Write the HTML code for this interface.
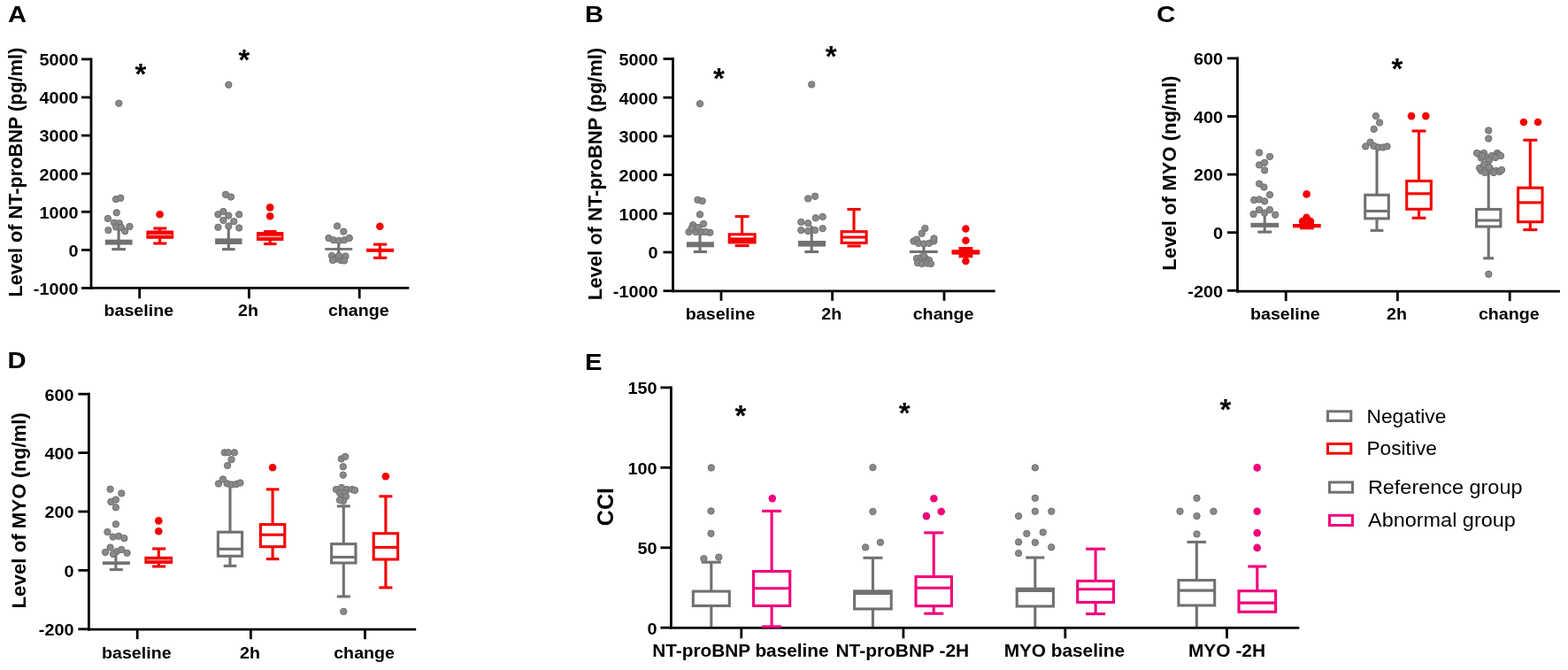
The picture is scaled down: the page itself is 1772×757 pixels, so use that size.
<!DOCTYPE html>
<html><head><meta charset="utf-8"><title>Figure</title>
<style>html,body{margin:0;padding:0;background:#fff;} svg{display:block;}</style>
</head><body>
<svg width="1772" height="757" viewBox="0 0 1772 757" font-family="'Liberation Sans', Arial, Helvetica, sans-serif">
<rect width="1772" height="757" fill="#fff"/>
<text transform="translate(9,25) scale(1.1,1)" font-size="26.5" font-weight="bold" text-anchor="start">A</text>
<line x1="103.0" y1="65.5" x2="103.0" y2="326.7" stroke="#000" stroke-width="2.8"/>
<line x1="101.6" y1="325.3" x2="462.3" y2="325.3" stroke="#000" stroke-width="2.8"/>
<line x1="92.0" y1="325.5" x2="103.0" y2="325.5" stroke="#000" stroke-width="2.8"/>
<line x1="92.0" y1="282.4" x2="103.0" y2="282.4" stroke="#000" stroke-width="2.8"/>
<line x1="92.0" y1="239.3" x2="103.0" y2="239.3" stroke="#000" stroke-width="2.8"/>
<line x1="92.0" y1="196.2" x2="103.0" y2="196.2" stroke="#000" stroke-width="2.8"/>
<line x1="92.0" y1="153.1" x2="103.0" y2="153.1" stroke="#000" stroke-width="2.8"/>
<line x1="92.0" y1="110.0" x2="103.0" y2="110.0" stroke="#000" stroke-width="2.8"/>
<line x1="92.0" y1="66.9" x2="103.0" y2="66.9" stroke="#000" stroke-width="2.8"/>
<line x1="157.7" y1="325.3" x2="157.7" y2="337.3" stroke="#000" stroke-width="2.8"/>
<line x1="281.4" y1="325.3" x2="281.4" y2="337.3" stroke="#000" stroke-width="2.8"/>
<line x1="406.2" y1="325.3" x2="406.2" y2="337.3" stroke="#000" stroke-width="2.8"/>
<text transform="translate(88.5,332.8) scale(1.09,1)" font-size="18.2" font-weight="bold" text-anchor="end">-1000</text>
<text transform="translate(88.5,289.7) scale(1.09,1)" font-size="18.2" font-weight="bold" text-anchor="end">0</text>
<text transform="translate(88.5,246.6) scale(1.09,1)" font-size="18.2" font-weight="bold" text-anchor="end">1000</text>
<text transform="translate(88.5,203.5) scale(1.09,1)" font-size="18.2" font-weight="bold" text-anchor="end">2000</text>
<text transform="translate(88.5,160.39999999999998) scale(1.09,1)" font-size="18.2" font-weight="bold" text-anchor="end">3000</text>
<text transform="translate(88.5,117.29999999999997) scale(1.09,1)" font-size="18.2" font-weight="bold" text-anchor="end">4000</text>
<text transform="translate(88.5,74.19999999999997) scale(1.09,1)" font-size="18.2" font-weight="bold" text-anchor="end">5000</text>
<text transform="translate(156.79999999999998,357.3) scale(1.075,1)" font-size="18.3" font-weight="bold" text-anchor="middle">baseline</text>
<text transform="translate(280.5,357.3) scale(1.075,1)" font-size="18.3" font-weight="bold" text-anchor="middle">2h</text>
<text transform="translate(405.3,357.3) scale(1.075,1)" font-size="18.3" font-weight="bold" text-anchor="middle">change</text>
<text transform="translate(25.4,194.6) rotate(-90) scale(1.01,1)" font-size="21.5" font-weight="bold" text-anchor="middle">Level of NT-proBNP (pg/ml)</text>
<text x="158.8" y="95.0" font-size="33" font-weight="bold" text-anchor="middle">*</text>
<text x="275.8" y="78.5" font-size="33" font-weight="bold" text-anchor="middle">*</text>
<line x1="134.1" y1="258.0" x2="134.1" y2="281.6" stroke="#717171" stroke-width="3.1"/>
<line x1="126.4" y1="281.6" x2="142.0" y2="281.6" stroke="#717171" stroke-width="3.1"/>
<rect x="118.8" y="270.7" width="30.8" height="5.9" fill="#717171"/>
<circle cx="134.3" cy="116.7" r="3.7" fill="#898989" stroke="#707070" stroke-width="1.0"/>
<circle cx="131.0" cy="225.1" r="3.7" fill="#898989" stroke="#707070" stroke-width="1.0"/>
<circle cx="136.3" cy="223.8" r="3.7" fill="#898989" stroke="#707070" stroke-width="1.0"/>
<circle cx="131.7" cy="240.3" r="3.7" fill="#898989" stroke="#707070" stroke-width="1.0"/>
<circle cx="121.9" cy="246.9" r="3.7" fill="#898989" stroke="#707070" stroke-width="1.0"/>
<circle cx="129.0" cy="251.7" r="3.7" fill="#898989" stroke="#707070" stroke-width="1.0"/>
<circle cx="134.8" cy="252.2" r="3.7" fill="#898989" stroke="#707070" stroke-width="1.0"/>
<circle cx="131.1" cy="256.4" r="3.7" fill="#898989" stroke="#707070" stroke-width="1.0"/>
<circle cx="137.0" cy="257.0" r="3.7" fill="#898989" stroke="#707070" stroke-width="1.0"/>
<circle cx="122.4" cy="260.1" r="3.7" fill="#898989" stroke="#707070" stroke-width="1.0"/>
<circle cx="141.2" cy="261.2" r="3.7" fill="#898989" stroke="#707070" stroke-width="1.0"/>
<circle cx="146.5" cy="255.9" r="3.7" fill="#898989" stroke="#707070" stroke-width="1.0"/>
<line x1="180.6" y1="258.0" x2="180.6" y2="275.0" stroke="#f50000" stroke-width="3.1"/>
<line x1="173.3" y1="258.0" x2="188.3" y2="258.0" stroke="#f50000" stroke-width="3.1"/>
<line x1="173.3" y1="275.0" x2="188.3" y2="275.0" stroke="#f50000" stroke-width="3.1"/>
<rect x="165.4" y="260.5" width="30.8" height="9.3" fill="#f50000"/>
<line x1="167.5" y1="265.4" x2="194.0" y2="265.4" stroke="#ff9a9a" stroke-width="1.2"/>
<circle cx="180.6" cy="242.3" r="4.3" fill="#f50000"/>
<line x1="258.3" y1="255.0" x2="258.3" y2="281.6" stroke="#717171" stroke-width="3.1"/>
<line x1="251.0" y1="281.6" x2="265.6" y2="281.6" stroke="#717171" stroke-width="3.1"/>
<rect x="243.1" y="269.4" width="30.4" height="6.6" fill="#717171"/>
<circle cx="258.3" cy="95.8" r="3.7" fill="#898989" stroke="#707070" stroke-width="1.0"/>
<circle cx="255.0" cy="219.8" r="3.7" fill="#898989" stroke="#707070" stroke-width="1.0"/>
<circle cx="261.0" cy="222.5" r="3.7" fill="#898989" stroke="#707070" stroke-width="1.0"/>
<circle cx="246.4" cy="242.3" r="3.7" fill="#898989" stroke="#707070" stroke-width="1.0"/>
<circle cx="252.4" cy="239.0" r="3.7" fill="#898989" stroke="#707070" stroke-width="1.0"/>
<circle cx="258.3" cy="243.6" r="3.7" fill="#898989" stroke="#707070" stroke-width="1.0"/>
<circle cx="270.2" cy="242.3" r="3.7" fill="#898989" stroke="#707070" stroke-width="1.0"/>
<circle cx="252.4" cy="248.9" r="3.7" fill="#898989" stroke="#707070" stroke-width="1.0"/>
<circle cx="264.3" cy="250.2" r="3.7" fill="#898989" stroke="#707070" stroke-width="1.0"/>
<circle cx="246.4" cy="256.8" r="3.7" fill="#898989" stroke="#707070" stroke-width="1.0"/>
<circle cx="270.2" cy="257.5" r="3.7" fill="#898989" stroke="#707070" stroke-width="1.0"/>
<circle cx="258.3" cy="255.5" r="3.7" fill="#898989" stroke="#707070" stroke-width="1.0"/>
<line x1="305.2" y1="261.0" x2="305.2" y2="275.6" stroke="#f50000" stroke-width="3.1"/>
<line x1="298.0" y1="275.6" x2="312.5" y2="275.6" stroke="#f50000" stroke-width="3.1"/>
<line x1="298.0" y1="261.6" x2="312.5" y2="261.6" stroke="#f50000" stroke-width="3.1"/>
<rect x="290.0" y="262.1" width="30.4" height="9.9" fill="#f50000"/>
<line x1="292.5" y1="267.4" x2="318.0" y2="267.4" stroke="#ffb0b0" stroke-width="1.6"/>
<circle cx="305.2" cy="234.4" r="4.3" fill="#f50000"/>
<circle cx="305.2" cy="244.3" r="4.3" fill="#f50000"/>
<line x1="382.7" y1="272.0" x2="382.7" y2="292.0" stroke="#717171" stroke-width="3.1"/>
<rect x="367.2" y="280.1" width="31.0" height="2.7" fill="#717171"/>
<circle cx="381.1" cy="255.4" r="3.7" fill="#898989" stroke="#707070" stroke-width="1.0"/>
<circle cx="388.3" cy="261.6" r="3.7" fill="#898989" stroke="#707070" stroke-width="1.0"/>
<circle cx="371.5" cy="269.0" r="3.7" fill="#898989" stroke="#707070" stroke-width="1.0"/>
<circle cx="377.0" cy="271.3" r="3.7" fill="#898989" stroke="#707070" stroke-width="1.0"/>
<circle cx="383.0" cy="272.0" r="3.7" fill="#898989" stroke="#707070" stroke-width="1.0"/>
<circle cx="389.0" cy="271.3" r="3.7" fill="#898989" stroke="#707070" stroke-width="1.0"/>
<circle cx="394.8" cy="269.0" r="3.7" fill="#898989" stroke="#707070" stroke-width="1.0"/>
<circle cx="375.0" cy="289.0" r="3.7" fill="#898989" stroke="#707070" stroke-width="1.0"/>
<circle cx="380.0" cy="292.5" r="3.7" fill="#898989" stroke="#707070" stroke-width="1.0"/>
<circle cx="385.0" cy="294.0" r="3.7" fill="#898989" stroke="#707070" stroke-width="1.0"/>
<circle cx="390.5" cy="289.5" r="3.7" fill="#898989" stroke="#707070" stroke-width="1.0"/>
<circle cx="376.0" cy="294.0" r="3.7" fill="#898989" stroke="#707070" stroke-width="1.0"/>
<circle cx="389.0" cy="294.5" r="3.7" fill="#898989" stroke="#707070" stroke-width="1.0"/>
<circle cx="383.0" cy="289.0" r="3.7" fill="#898989" stroke="#707070" stroke-width="1.0"/>
<line x1="429.3" y1="276.1" x2="429.3" y2="291.3" stroke="#f50000" stroke-width="3.1"/>
<line x1="422.0" y1="276.1" x2="437.2" y2="276.1" stroke="#f50000" stroke-width="3.1"/>
<line x1="422.0" y1="291.3" x2="437.2" y2="291.3" stroke="#f50000" stroke-width="3.1"/>
<rect x="414.0" y="280.8" width="31.1" height="4.0" fill="#f50000"/>
<circle cx="429.3" cy="255.7" r="4.3" fill="#f50000"/>
<text transform="translate(661,25) scale(1.1,1)" font-size="26.5" font-weight="bold" text-anchor="start">B</text>
<line x1="760.5" y1="65.1" x2="760.5" y2="330.2" stroke="#000" stroke-width="2.8"/>
<line x1="759.1" y1="328.8" x2="1124.6" y2="328.8" stroke="#000" stroke-width="2.8"/>
<line x1="749.5" y1="328.7" x2="760.5" y2="328.7" stroke="#000" stroke-width="2.8"/>
<line x1="749.5" y1="285.0" x2="760.5" y2="285.0" stroke="#000" stroke-width="2.8"/>
<line x1="749.5" y1="241.3" x2="760.5" y2="241.3" stroke="#000" stroke-width="2.8"/>
<line x1="749.5" y1="197.6" x2="760.5" y2="197.6" stroke="#000" stroke-width="2.8"/>
<line x1="749.5" y1="153.9" x2="760.5" y2="153.9" stroke="#000" stroke-width="2.8"/>
<line x1="749.5" y1="110.2" x2="760.5" y2="110.2" stroke="#000" stroke-width="2.8"/>
<line x1="749.5" y1="66.5" x2="760.5" y2="66.5" stroke="#000" stroke-width="2.8"/>
<line x1="815.0" y1="328.8" x2="815.0" y2="339.8" stroke="#000" stroke-width="2.8"/>
<line x1="940.6" y1="328.8" x2="940.6" y2="339.8" stroke="#000" stroke-width="2.8"/>
<line x1="1067.0" y1="328.8" x2="1067.0" y2="339.8" stroke="#000" stroke-width="2.8"/>
<text transform="translate(743.5,336.0) scale(1.09,1)" font-size="18.2" font-weight="bold" text-anchor="end">-1000</text>
<text transform="translate(743.5,292.3) scale(1.09,1)" font-size="18.2" font-weight="bold" text-anchor="end">0</text>
<text transform="translate(743.5,248.60000000000002) scale(1.09,1)" font-size="18.2" font-weight="bold" text-anchor="end">1000</text>
<text transform="translate(743.5,204.9) scale(1.09,1)" font-size="18.2" font-weight="bold" text-anchor="end">2000</text>
<text transform="translate(743.5,161.2) scale(1.09,1)" font-size="18.2" font-weight="bold" text-anchor="end">3000</text>
<text transform="translate(743.5,117.49999999999999) scale(1.09,1)" font-size="18.2" font-weight="bold" text-anchor="end">4000</text>
<text transform="translate(743.5,73.8) scale(1.09,1)" font-size="18.2" font-weight="bold" text-anchor="end">5000</text>
<text transform="translate(814.1,360.8) scale(1.075,1)" font-size="18.3" font-weight="bold" text-anchor="middle">baseline</text>
<text transform="translate(939.7,360.8) scale(1.075,1)" font-size="18.3" font-weight="bold" text-anchor="middle">2h</text>
<text transform="translate(1066.1,360.8) scale(1.075,1)" font-size="18.3" font-weight="bold" text-anchor="middle">change</text>
<text transform="translate(680.4,196.5) rotate(-90) scale(1.023,1)" font-size="21.5" font-weight="bold" text-anchor="middle">Level of NT-proBNP (pg/ml)</text>
<text x="812.5" y="100.4" font-size="33" font-weight="bold" text-anchor="middle">*</text>
<text x="939.2" y="74.5" font-size="33" font-weight="bold" text-anchor="middle">*</text>
<line x1="791.0" y1="258.0" x2="791.0" y2="284.5" stroke="#717171" stroke-width="3.1"/>
<line x1="783.8" y1="284.5" x2="799.0" y2="284.5" stroke="#717171" stroke-width="3.1"/>
<rect x="775.9" y="273.3" width="31.0" height="6.0" fill="#717171"/>
<circle cx="791.0" cy="117.2" r="3.7" fill="#898989" stroke="#707070" stroke-width="1.0"/>
<circle cx="788.4" cy="225.8" r="3.7" fill="#898989" stroke="#707070" stroke-width="1.0"/>
<circle cx="793.7" cy="227.1" r="3.7" fill="#898989" stroke="#707070" stroke-width="1.0"/>
<circle cx="791.0" cy="242.3" r="3.7" fill="#898989" stroke="#707070" stroke-width="1.0"/>
<circle cx="783.1" cy="254.2" r="3.7" fill="#898989" stroke="#707070" stroke-width="1.0"/>
<circle cx="795.0" cy="252.9" r="3.7" fill="#898989" stroke="#707070" stroke-width="1.0"/>
<circle cx="778.5" cy="262.1" r="3.7" fill="#898989" stroke="#707070" stroke-width="1.0"/>
<circle cx="786.4" cy="262.1" r="3.7" fill="#898989" stroke="#707070" stroke-width="1.0"/>
<circle cx="793.0" cy="262.1" r="3.7" fill="#898989" stroke="#707070" stroke-width="1.0"/>
<circle cx="802.3" cy="262.8" r="3.7" fill="#898989" stroke="#707070" stroke-width="1.0"/>
<circle cx="789.0" cy="257.0" r="3.7" fill="#898989" stroke="#707070" stroke-width="1.0"/>
<circle cx="797.5" cy="262.0" r="3.7" fill="#898989" stroke="#707070" stroke-width="1.0"/>
<circle cx="781.5" cy="258.0" r="3.7" fill="#898989" stroke="#707070" stroke-width="1.0"/>
<line x1="838.6" y1="244.6" x2="838.6" y2="264.0" stroke="#f50000" stroke-width="3.1"/>
<line x1="830.7" y1="244.6" x2="846.6" y2="244.6" stroke="#f50000" stroke-width="3.1"/>
<line x1="830.7" y1="277.6" x2="846.6" y2="277.6" stroke="#f50000" stroke-width="3.1"/>
<rect x="824.2" y="264.8" width="28.9" height="9.1" fill="#fff" stroke="#f50000" stroke-width="3.1"/>
<rect x="824.2" y="268.4" width="28.9" height="5.5" fill="#f50000"/>
<line x1="917.2" y1="255.0" x2="917.2" y2="284.5" stroke="#717171" stroke-width="3.1"/>
<line x1="909.3" y1="284.5" x2="925.1" y2="284.5" stroke="#717171" stroke-width="3.1"/>
<rect x="902.0" y="272.0" width="31.0" height="6.6" fill="#717171"/>
<circle cx="917.2" cy="95.5" r="3.7" fill="#898989" stroke="#707070" stroke-width="1.0"/>
<circle cx="913.2" cy="224.4" r="3.7" fill="#898989" stroke="#707070" stroke-width="1.0"/>
<circle cx="921.1" cy="221.8" r="3.7" fill="#898989" stroke="#707070" stroke-width="1.0"/>
<circle cx="921.8" cy="246.3" r="3.7" fill="#898989" stroke="#707070" stroke-width="1.0"/>
<circle cx="929.7" cy="244.9" r="3.7" fill="#898989" stroke="#707070" stroke-width="1.0"/>
<circle cx="905.3" cy="250.9" r="3.7" fill="#898989" stroke="#707070" stroke-width="1.0"/>
<circle cx="913.2" cy="252.2" r="3.7" fill="#898989" stroke="#707070" stroke-width="1.0"/>
<circle cx="905.3" cy="260.1" r="3.7" fill="#898989" stroke="#707070" stroke-width="1.0"/>
<circle cx="921.1" cy="260.1" r="3.7" fill="#898989" stroke="#707070" stroke-width="1.0"/>
<circle cx="929.7" cy="258.1" r="3.7" fill="#898989" stroke="#707070" stroke-width="1.0"/>
<circle cx="913.0" cy="261.0" r="3.7" fill="#898989" stroke="#707070" stroke-width="1.0"/>
<line x1="965.0" y1="236.5" x2="965.0" y2="262.0" stroke="#f50000" stroke-width="3.1"/>
<line x1="957.5" y1="236.5" x2="972.7" y2="236.5" stroke="#f50000" stroke-width="3.1"/>
<line x1="957.5" y1="278.0" x2="972.7" y2="278.0" stroke="#f50000" stroke-width="3.1"/>
<rect x="951.1" y="261.7" width="28.0" height="12.7" fill="#fff" stroke="#f50000" stroke-width="3.1"/>
<line x1="951.1" y1="268.0" x2="979.1" y2="268.0" stroke="#f50000" stroke-width="3.1"/>
<line x1="1044.0" y1="276.0" x2="1044.0" y2="293.0" stroke="#717171" stroke-width="3.1"/>
<rect x="1028.0" y="282.9" width="31.7" height="3.1" fill="#717171"/>
<circle cx="1045.4" cy="258.0" r="3.7" fill="#898989" stroke="#707070" stroke-width="1.0"/>
<circle cx="1041.7" cy="263.8" r="3.7" fill="#898989" stroke="#707070" stroke-width="1.0"/>
<circle cx="1032.5" cy="272.5" r="3.7" fill="#898989" stroke="#707070" stroke-width="1.0"/>
<circle cx="1036.0" cy="270.5" r="3.7" fill="#898989" stroke="#707070" stroke-width="1.0"/>
<circle cx="1038.0" cy="274.8" r="3.7" fill="#898989" stroke="#707070" stroke-width="1.0"/>
<circle cx="1044.0" cy="275.5" r="3.7" fill="#898989" stroke="#707070" stroke-width="1.0"/>
<circle cx="1050.0" cy="274.8" r="3.7" fill="#898989" stroke="#707070" stroke-width="1.0"/>
<circle cx="1055.3" cy="272.5" r="3.7" fill="#898989" stroke="#707070" stroke-width="1.0"/>
<circle cx="1055.5" cy="269.5" r="3.7" fill="#898989" stroke="#707070" stroke-width="1.0"/>
<circle cx="1036.0" cy="292.0" r="3.7" fill="#898989" stroke="#707070" stroke-width="1.0"/>
<circle cx="1041.0" cy="291.0" r="3.7" fill="#898989" stroke="#707070" stroke-width="1.0"/>
<circle cx="1046.0" cy="292.0" r="3.7" fill="#898989" stroke="#707070" stroke-width="1.0"/>
<circle cx="1050.0" cy="294.0" r="3.7" fill="#898989" stroke="#707070" stroke-width="1.0"/>
<circle cx="1037.0" cy="297.0" r="3.7" fill="#898989" stroke="#707070" stroke-width="1.0"/>
<circle cx="1042.0" cy="298.0" r="3.7" fill="#898989" stroke="#707070" stroke-width="1.0"/>
<circle cx="1048.0" cy="297.5" r="3.7" fill="#898989" stroke="#707070" stroke-width="1.0"/>
<circle cx="1052.0" cy="298.0" r="3.7" fill="#898989" stroke="#707070" stroke-width="1.0"/>
<circle cx="1044.0" cy="289.0" r="3.7" fill="#898989" stroke="#707070" stroke-width="1.0"/>
<rect x="1083.5" y="279.0" width="15.8" height="12.3" fill="#f50000"/>
<rect x="1075.5" y="282.3" width="31.8" height="5.3" fill="#f50000"/>
<circle cx="1091.4" cy="258.5" r="4.3" fill="#f50000"/>
<circle cx="1091.4" cy="271.8" r="4.3" fill="#f50000"/>
<circle cx="1091.4" cy="295.0" r="4.3" fill="#f50000"/>
<text transform="translate(1307,25) scale(1.12,1)" font-size="26.5" font-weight="bold" text-anchor="start">C</text>
<line x1="1398.5" y1="64.5" x2="1398.5" y2="330.6" stroke="#000" stroke-width="2.8"/>
<line x1="1397.1" y1="329.2" x2="1762.9" y2="329.2" stroke="#000" stroke-width="2.8"/>
<line x1="1387.0" y1="328.3" x2="1398.5" y2="328.3" stroke="#000" stroke-width="2.8"/>
<line x1="1387.0" y1="262.7" x2="1398.5" y2="262.7" stroke="#000" stroke-width="2.8"/>
<line x1="1387.0" y1="197.1" x2="1398.5" y2="197.1" stroke="#000" stroke-width="2.8"/>
<line x1="1387.0" y1="131.5" x2="1398.5" y2="131.5" stroke="#000" stroke-width="2.8"/>
<line x1="1387.0" y1="65.9" x2="1398.5" y2="65.9" stroke="#000" stroke-width="2.8"/>
<line x1="1453.2" y1="329.2" x2="1453.2" y2="340.2" stroke="#000" stroke-width="2.8"/>
<line x1="1579.4" y1="329.2" x2="1579.4" y2="340.2" stroke="#000" stroke-width="2.8"/>
<line x1="1706.2" y1="329.2" x2="1706.2" y2="340.2" stroke="#000" stroke-width="2.8"/>
<text transform="translate(1382,335.59999999999997) scale(1.09,1)" font-size="18.2" font-weight="bold" text-anchor="end">-200</text>
<text transform="translate(1382,270.0) scale(1.09,1)" font-size="18.2" font-weight="bold" text-anchor="end">0</text>
<text transform="translate(1382,204.4) scale(1.09,1)" font-size="18.2" font-weight="bold" text-anchor="end">200</text>
<text transform="translate(1382,138.8) scale(1.09,1)" font-size="18.2" font-weight="bold" text-anchor="end">400</text>
<text transform="translate(1382,73.2) scale(1.09,1)" font-size="18.2" font-weight="bold" text-anchor="end">600</text>
<text transform="translate(1452.3,361) scale(1.075,1)" font-size="18.3" font-weight="bold" text-anchor="middle">baseline</text>
<text transform="translate(1578.5,361) scale(1.075,1)" font-size="18.3" font-weight="bold" text-anchor="middle">2h</text>
<text transform="translate(1705.3,361) scale(1.075,1)" font-size="18.3" font-weight="bold" text-anchor="middle">change</text>
<text transform="translate(1329.1,195.6) rotate(-90) scale(1.03,1)" font-size="21.5" font-weight="bold" text-anchor="middle">Level of MYO (ng/ml)</text>
<text x="1578.8" y="89.2" font-size="33" font-weight="bold" text-anchor="middle">*</text>
<line x1="1429.2" y1="242.0" x2="1429.2" y2="262.1" stroke="#717171" stroke-width="3.1"/>
<line x1="1421.4" y1="262.1" x2="1437.2" y2="262.1" stroke="#717171" stroke-width="3.1"/>
<rect x="1413.5" y="251.8" width="31.7" height="5.1" fill="#717171"/>
<circle cx="1423.1" cy="172.5" r="3.7" fill="#898989" stroke="#707070" stroke-width="1.0"/>
<circle cx="1435.0" cy="176.9" r="3.7" fill="#898989" stroke="#707070" stroke-width="1.0"/>
<circle cx="1423.1" cy="186.4" r="3.7" fill="#898989" stroke="#707070" stroke-width="1.0"/>
<circle cx="1429.1" cy="183.8" r="3.7" fill="#898989" stroke="#707070" stroke-width="1.0"/>
<circle cx="1429.1" cy="192.4" r="3.7" fill="#898989" stroke="#707070" stroke-width="1.0"/>
<circle cx="1423.1" cy="207.6" r="3.7" fill="#898989" stroke="#707070" stroke-width="1.0"/>
<circle cx="1428.4" cy="211.5" r="3.7" fill="#898989" stroke="#707070" stroke-width="1.0"/>
<circle cx="1435.0" cy="220.1" r="3.7" fill="#898989" stroke="#707070" stroke-width="1.0"/>
<circle cx="1417.2" cy="226.0" r="3.7" fill="#898989" stroke="#707070" stroke-width="1.0"/>
<circle cx="1423.1" cy="225.4" r="3.7" fill="#898989" stroke="#707070" stroke-width="1.0"/>
<circle cx="1429.1" cy="227.4" r="3.7" fill="#898989" stroke="#707070" stroke-width="1.0"/>
<circle cx="1416.6" cy="241.9" r="3.7" fill="#898989" stroke="#707070" stroke-width="1.0"/>
<circle cx="1423.0" cy="237.0" r="3.7" fill="#898989" stroke="#707070" stroke-width="1.0"/>
<circle cx="1429.1" cy="240.6" r="3.7" fill="#898989" stroke="#707070" stroke-width="1.0"/>
<circle cx="1434.9" cy="237.0" r="3.7" fill="#898989" stroke="#707070" stroke-width="1.0"/>
<circle cx="1441.2" cy="242.7" r="3.7" fill="#898989" stroke="#707070" stroke-width="1.0"/>
<rect x="1469.0" y="250.5" width="15.8" height="8.8" fill="#f50000"/>
<rect x="1461.0" y="253.0" width="31.7" height="4.3" fill="#f50000"/>
<circle cx="1476.6" cy="219.4" r="4.3" fill="#f50000"/>
<circle cx="1476.5" cy="245.8" r="4.3" fill="#f50000"/>
<circle cx="1472.0" cy="250.0" r="4.3" fill="#f50000"/>
<circle cx="1481.0" cy="250.0" r="4.3" fill="#f50000"/>
<line x1="1556.0" y1="166.0" x2="1556.0" y2="220.3" stroke="#717171" stroke-width="3.1"/>
<line x1="1548.6" y1="166.0" x2="1563.4" y2="166.0" stroke="#717171" stroke-width="3.1"/>
<line x1="1556.0" y1="246.9" x2="1556.0" y2="260.4" stroke="#717171" stroke-width="3.1"/>
<line x1="1548.6" y1="260.4" x2="1563.4" y2="260.4" stroke="#717171" stroke-width="3.1"/>
<rect x="1542.7" y="220.3" width="26.6" height="26.6" fill="#fff" stroke="#717171" stroke-width="3.1"/>
<line x1="1542.7" y1="238.5" x2="1569.3" y2="238.5" stroke="#717171" stroke-width="3.1"/>
<circle cx="1554.9" cy="131.1" r="3.7" fill="#898989" stroke="#707070" stroke-width="1.0"/>
<circle cx="1559.1" cy="138.5" r="3.7" fill="#898989" stroke="#707070" stroke-width="1.0"/>
<circle cx="1552.7" cy="145.9" r="3.7" fill="#898989" stroke="#707070" stroke-width="1.0"/>
<circle cx="1543.2" cy="165.4" r="3.7" fill="#898989" stroke="#707070" stroke-width="1.0"/>
<circle cx="1548.5" cy="160.7" r="3.7" fill="#898989" stroke="#707070" stroke-width="1.0"/>
<circle cx="1553.0" cy="165.0" r="3.7" fill="#898989" stroke="#707070" stroke-width="1.0"/>
<circle cx="1558.0" cy="166.5" r="3.7" fill="#898989" stroke="#707070" stroke-width="1.0"/>
<circle cx="1563.0" cy="166.5" r="3.7" fill="#898989" stroke="#707070" stroke-width="1.0"/>
<circle cx="1567.5" cy="165.4" r="3.7" fill="#898989" stroke="#707070" stroke-width="1.0"/>
<line x1="1603.5" y1="148.0" x2="1603.5" y2="204.5" stroke="#f50000" stroke-width="3.1"/>
<line x1="1595.6" y1="148.0" x2="1611.4" y2="148.0" stroke="#f50000" stroke-width="3.1"/>
<line x1="1603.5" y1="236.3" x2="1603.5" y2="246.3" stroke="#f50000" stroke-width="3.1"/>
<line x1="1595.6" y1="246.3" x2="1611.4" y2="246.3" stroke="#f50000" stroke-width="3.1"/>
<rect x="1589.7" y="204.5" width="27.6" height="31.8" fill="#fff" stroke="#f50000" stroke-width="3.1"/>
<line x1="1589.7" y1="218.8" x2="1617.3" y2="218.8" stroke="#f50000" stroke-width="3.1"/>
<circle cx="1595.0" cy="131.1" r="4.3" fill="#f50000"/>
<circle cx="1611.3" cy="131.1" r="4.3" fill="#f50000"/>
<line x1="1682.2" y1="195.0" x2="1682.2" y2="236.5" stroke="#717171" stroke-width="3.1"/>
<line x1="1676.2" y1="195.0" x2="1688.2" y2="195.0" stroke="#717171" stroke-width="3.1"/>
<line x1="1682.2" y1="256.0" x2="1682.2" y2="291.8" stroke="#717171" stroke-width="3.1"/>
<line x1="1676.2" y1="291.8" x2="1688.2" y2="291.8" stroke="#717171" stroke-width="3.1"/>
<rect x="1668.5" y="236.5" width="27.4" height="19.5" fill="#fff" stroke="#717171" stroke-width="3.1"/>
<line x1="1668.5" y1="249.0" x2="1695.9" y2="249.0" stroke="#717171" stroke-width="3.1"/>
<circle cx="1682.2" cy="147.4" r="3.7" fill="#898989" stroke="#707070" stroke-width="1.0"/>
<circle cx="1682.2" cy="156.6" r="3.7" fill="#898989" stroke="#707070" stroke-width="1.0"/>
<circle cx="1671.0" cy="174.0" r="3.7" fill="#898989" stroke="#707070" stroke-width="1.0"/>
<circle cx="1677.0" cy="173.0" r="3.7" fill="#898989" stroke="#707070" stroke-width="1.0"/>
<circle cx="1674.0" cy="178.5" r="3.7" fill="#898989" stroke="#707070" stroke-width="1.0"/>
<circle cx="1680.0" cy="178.0" r="3.7" fill="#898989" stroke="#707070" stroke-width="1.0"/>
<circle cx="1692.0" cy="173.0" r="3.7" fill="#898989" stroke="#707070" stroke-width="1.0"/>
<circle cx="1693.5" cy="175.0" r="3.7" fill="#898989" stroke="#707070" stroke-width="1.0"/>
<circle cx="1683.0" cy="181.0" r="3.7" fill="#898989" stroke="#707070" stroke-width="1.0"/>
<circle cx="1681.0" cy="186.0" r="3.7" fill="#898989" stroke="#707070" stroke-width="1.0"/>
<circle cx="1674.0" cy="193.0" r="3.7" fill="#898989" stroke="#707070" stroke-width="1.0"/>
<circle cx="1679.0" cy="191.0" r="3.7" fill="#898989" stroke="#707070" stroke-width="1.0"/>
<circle cx="1685.0" cy="192.0" r="3.7" fill="#898989" stroke="#707070" stroke-width="1.0"/>
<circle cx="1691.0" cy="193.0" r="3.7" fill="#898989" stroke="#707070" stroke-width="1.0"/>
<circle cx="1694.5" cy="194.0" r="3.7" fill="#898989" stroke="#707070" stroke-width="1.0"/>
<circle cx="1678.0" cy="195.0" r="3.7" fill="#898989" stroke="#707070" stroke-width="1.0"/>
<circle cx="1688.0" cy="195.0" r="3.7" fill="#898989" stroke="#707070" stroke-width="1.0"/>
<circle cx="1669.0" cy="173.0" r="3.7" fill="#898989" stroke="#707070" stroke-width="1.0"/>
<circle cx="1675.0" cy="176.0" r="3.7" fill="#898989" stroke="#707070" stroke-width="1.0"/>
<circle cx="1686.0" cy="176.0" r="3.7" fill="#898989" stroke="#707070" stroke-width="1.0"/>
<circle cx="1690.0" cy="178.0" r="3.7" fill="#898989" stroke="#707070" stroke-width="1.0"/>
<circle cx="1696.0" cy="176.0" r="3.7" fill="#898989" stroke="#707070" stroke-width="1.0"/>
<circle cx="1672.0" cy="190.0" r="3.7" fill="#898989" stroke="#707070" stroke-width="1.0"/>
<circle cx="1683.0" cy="189.0" r="3.7" fill="#898989" stroke="#707070" stroke-width="1.0"/>
<circle cx="1697.0" cy="192.0" r="3.7" fill="#898989" stroke="#707070" stroke-width="1.0"/>
<circle cx="1677.0" cy="186.0" r="3.7" fill="#898989" stroke="#707070" stroke-width="1.0"/>
<circle cx="1682.3" cy="309.8" r="3.7" fill="#898989" stroke="#707070" stroke-width="1.0"/>
<line x1="1729.3" y1="158.3" x2="1729.3" y2="212.2" stroke="#f50000" stroke-width="3.1"/>
<line x1="1721.3" y1="158.3" x2="1737.3" y2="158.3" stroke="#f50000" stroke-width="3.1"/>
<line x1="1729.3" y1="250.7" x2="1729.3" y2="259.6" stroke="#f50000" stroke-width="3.1"/>
<line x1="1721.3" y1="259.6" x2="1737.3" y2="259.6" stroke="#f50000" stroke-width="3.1"/>
<rect x="1715.6" y="212.2" width="27.4" height="38.5" fill="#fff" stroke="#f50000" stroke-width="3.1"/>
<line x1="1715.6" y1="228.9" x2="1743.0" y2="228.9" stroke="#f50000" stroke-width="3.1"/>
<circle cx="1721.9" cy="138.0" r="4.3" fill="#f50000"/>
<circle cx="1738.0" cy="138.0" r="4.3" fill="#f50000"/>
<text transform="translate(8.5,416.4) scale(1.1,1)" font-size="26.5" font-weight="bold" text-anchor="start">D</text>
<line x1="100.4" y1="443.8" x2="100.4" y2="712.6" stroke="#000" stroke-width="2.8"/>
<line x1="99.0" y1="711.2" x2="470.2" y2="711.2" stroke="#000" stroke-width="2.8"/>
<line x1="88.4" y1="710.8" x2="100.4" y2="710.8" stroke="#000" stroke-width="2.8"/>
<line x1="88.4" y1="644.4" x2="100.4" y2="644.4" stroke="#000" stroke-width="2.8"/>
<line x1="88.4" y1="578.0" x2="100.4" y2="578.0" stroke="#000" stroke-width="2.8"/>
<line x1="88.4" y1="511.6" x2="100.4" y2="511.6" stroke="#000" stroke-width="2.8"/>
<line x1="88.4" y1="445.2" x2="100.4" y2="445.2" stroke="#000" stroke-width="2.8"/>
<line x1="155.2" y1="711.2" x2="155.2" y2="722.2" stroke="#000" stroke-width="2.8"/>
<line x1="283.4" y1="711.2" x2="283.4" y2="722.2" stroke="#000" stroke-width="2.8"/>
<line x1="412.5" y1="711.2" x2="412.5" y2="722.2" stroke="#000" stroke-width="2.8"/>
<text transform="translate(83.5,718.0999999999999) scale(1.09,1)" font-size="18.2" font-weight="bold" text-anchor="end">-200</text>
<text transform="translate(83.5,651.6999999999999) scale(1.09,1)" font-size="18.2" font-weight="bold" text-anchor="end">0</text>
<text transform="translate(83.5,585.3) scale(1.09,1)" font-size="18.2" font-weight="bold" text-anchor="end">200</text>
<text transform="translate(83.5,518.9) scale(1.09,1)" font-size="18.2" font-weight="bold" text-anchor="end">400</text>
<text transform="translate(83.5,452.49999999999994) scale(1.09,1)" font-size="18.2" font-weight="bold" text-anchor="end">600</text>
<text transform="translate(154.29999999999998,744) scale(1.075,1)" font-size="18.3" font-weight="bold" text-anchor="middle">baseline</text>
<text transform="translate(282.5,744) scale(1.075,1)" font-size="18.3" font-weight="bold" text-anchor="middle">2h</text>
<text transform="translate(411.6,744) scale(1.075,1)" font-size="18.3" font-weight="bold" text-anchor="middle">change</text>
<text transform="translate(29.4,576.8) rotate(-90) scale(1.036,1)" font-size="21.5" font-weight="bold" text-anchor="middle">Level of MYO (ng/ml)</text>
<line x1="130.9" y1="624.0" x2="130.9" y2="643.6" stroke="#717171" stroke-width="3.1"/>
<line x1="123.8" y1="643.6" x2="138.8" y2="643.6" stroke="#717171" stroke-width="3.1"/>
<rect x="115.9" y="634.3" width="30.9" height="3.7" fill="#717171"/>
<circle cx="124.6" cy="552.7" r="3.7" fill="#898989" stroke="#707070" stroke-width="1.0"/>
<circle cx="137.3" cy="557.4" r="3.7" fill="#898989" stroke="#707070" stroke-width="1.0"/>
<circle cx="125.4" cy="567.0" r="3.7" fill="#898989" stroke="#707070" stroke-width="1.0"/>
<circle cx="130.9" cy="564.6" r="3.7" fill="#898989" stroke="#707070" stroke-width="1.0"/>
<circle cx="130.9" cy="573.3" r="3.7" fill="#898989" stroke="#707070" stroke-width="1.0"/>
<circle cx="130.9" cy="592.3" r="3.7" fill="#898989" stroke="#707070" stroke-width="1.0"/>
<circle cx="121.4" cy="601.0" r="3.7" fill="#898989" stroke="#707070" stroke-width="1.0"/>
<circle cx="127.7" cy="606.6" r="3.7" fill="#898989" stroke="#707070" stroke-width="1.0"/>
<circle cx="134.1" cy="605.8" r="3.7" fill="#898989" stroke="#707070" stroke-width="1.0"/>
<circle cx="140.4" cy="608.2" r="3.7" fill="#898989" stroke="#707070" stroke-width="1.0"/>
<circle cx="119.0" cy="624.0" r="3.7" fill="#898989" stroke="#707070" stroke-width="1.0"/>
<circle cx="124.6" cy="618.5" r="3.7" fill="#898989" stroke="#707070" stroke-width="1.0"/>
<circle cx="131.7" cy="623.2" r="3.7" fill="#898989" stroke="#707070" stroke-width="1.0"/>
<circle cx="137.3" cy="620.9" r="3.7" fill="#898989" stroke="#707070" stroke-width="1.0"/>
<circle cx="143.6" cy="624.8" r="3.7" fill="#898989" stroke="#707070" stroke-width="1.0"/>
<circle cx="128.0" cy="626.0" r="3.7" fill="#898989" stroke="#707070" stroke-width="1.0"/>
<line x1="179.3" y1="620.0" x2="179.3" y2="640.0" stroke="#f50000" stroke-width="3.1"/>
<line x1="172.1" y1="620.0" x2="187.2" y2="620.0" stroke="#f50000" stroke-width="3.1"/>
<line x1="172.1" y1="640.0" x2="187.2" y2="640.0" stroke="#f50000" stroke-width="3.1"/>
<rect x="163.4" y="628.8" width="31.7" height="8.2" fill="#f50000"/>
<line x1="165.5" y1="632.7" x2="193.0" y2="632.7" stroke="#ff9a9a" stroke-width="1.3"/>
<circle cx="179.3" cy="588.4" r="4.3" fill="#f50000"/>
<circle cx="179.3" cy="600.2" r="4.3" fill="#f50000"/>
<line x1="260.0" y1="547.0" x2="260.0" y2="601.2" stroke="#717171" stroke-width="3.1"/>
<line x1="252.7" y1="547.0" x2="267.3" y2="547.0" stroke="#717171" stroke-width="3.1"/>
<line x1="260.0" y1="628.3" x2="260.0" y2="639.4" stroke="#717171" stroke-width="3.1"/>
<line x1="252.7" y1="639.4" x2="267.3" y2="639.4" stroke="#717171" stroke-width="3.1"/>
<rect x="246.4" y="601.2" width="27.2" height="27.1" fill="#fff" stroke="#717171" stroke-width="3.1"/>
<line x1="246.4" y1="620.3" x2="273.6" y2="620.3" stroke="#717171" stroke-width="3.1"/>
<circle cx="253.7" cy="511.3" r="3.7" fill="#898989" stroke="#707070" stroke-width="1.0"/>
<circle cx="258.0" cy="511.3" r="3.7" fill="#898989" stroke="#707070" stroke-width="1.0"/>
<circle cx="264.9" cy="511.3" r="3.7" fill="#898989" stroke="#707070" stroke-width="1.0"/>
<circle cx="261.6" cy="519.2" r="3.7" fill="#898989" stroke="#707070" stroke-width="1.0"/>
<circle cx="257.1" cy="526.0" r="3.7" fill="#898989" stroke="#707070" stroke-width="1.0"/>
<circle cx="247.0" cy="546.5" r="3.7" fill="#898989" stroke="#707070" stroke-width="1.0"/>
<circle cx="252.0" cy="541.5" r="3.7" fill="#898989" stroke="#707070" stroke-width="1.0"/>
<circle cx="257.0" cy="546.5" r="3.7" fill="#898989" stroke="#707070" stroke-width="1.0"/>
<circle cx="262.0" cy="547.5" r="3.7" fill="#898989" stroke="#707070" stroke-width="1.0"/>
<circle cx="267.0" cy="547.0" r="3.7" fill="#898989" stroke="#707070" stroke-width="1.0"/>
<circle cx="271.5" cy="545.5" r="3.7" fill="#898989" stroke="#707070" stroke-width="1.0"/>
<line x1="308.1" y1="552.9" x2="308.1" y2="592.6" stroke="#f50000" stroke-width="3.1"/>
<line x1="300.8" y1="552.9" x2="315.4" y2="552.9" stroke="#f50000" stroke-width="3.1"/>
<line x1="308.1" y1="617.7" x2="308.1" y2="631.6" stroke="#f50000" stroke-width="3.1"/>
<line x1="300.8" y1="631.6" x2="315.4" y2="631.6" stroke="#f50000" stroke-width="3.1"/>
<rect x="294.4" y="592.6" width="27.4" height="25.1" fill="#fff" stroke="#f50000" stroke-width="3.1"/>
<line x1="294.4" y1="604.2" x2="321.8" y2="604.2" stroke="#f50000" stroke-width="3.1"/>
<circle cx="308.1" cy="528.2" r="4.3" fill="#f50000"/>
<line x1="388.3" y1="571.9" x2="388.3" y2="614.6" stroke="#717171" stroke-width="3.1"/>
<line x1="380.8" y1="571.9" x2="395.8" y2="571.9" stroke="#717171" stroke-width="3.1"/>
<line x1="388.3" y1="636.0" x2="388.3" y2="674.0" stroke="#717171" stroke-width="3.1"/>
<line x1="380.8" y1="674.0" x2="395.8" y2="674.0" stroke="#717171" stroke-width="3.1"/>
<rect x="374.6" y="614.6" width="27.4" height="21.4" fill="#fff" stroke="#717171" stroke-width="3.1"/>
<line x1="374.6" y1="629.5" x2="402.0" y2="629.5" stroke="#717171" stroke-width="3.1"/>
<circle cx="385.8" cy="518.4" r="3.7" fill="#898989" stroke="#707070" stroke-width="1.0"/>
<circle cx="390.2" cy="515.9" r="3.7" fill="#898989" stroke="#707070" stroke-width="1.0"/>
<circle cx="387.8" cy="527.3" r="3.7" fill="#898989" stroke="#707070" stroke-width="1.0"/>
<circle cx="387.8" cy="536.7" r="3.7" fill="#898989" stroke="#707070" stroke-width="1.0"/>
<circle cx="380.0" cy="553.0" r="3.7" fill="#898989" stroke="#707070" stroke-width="1.0"/>
<circle cx="386.0" cy="551.0" r="3.7" fill="#898989" stroke="#707070" stroke-width="1.0"/>
<circle cx="392.0" cy="553.0" r="3.7" fill="#898989" stroke="#707070" stroke-width="1.0"/>
<circle cx="398.0" cy="553.0" r="3.7" fill="#898989" stroke="#707070" stroke-width="1.0"/>
<circle cx="401.0" cy="554.0" r="3.7" fill="#898989" stroke="#707070" stroke-width="1.0"/>
<circle cx="384.0" cy="557.0" r="3.7" fill="#898989" stroke="#707070" stroke-width="1.0"/>
<circle cx="390.0" cy="557.0" r="3.7" fill="#898989" stroke="#707070" stroke-width="1.0"/>
<circle cx="386.0" cy="562.0" r="3.7" fill="#898989" stroke="#707070" stroke-width="1.0"/>
<circle cx="391.0" cy="561.0" r="3.7" fill="#898989" stroke="#707070" stroke-width="1.0"/>
<circle cx="388.0" cy="566.0" r="3.7" fill="#898989" stroke="#707070" stroke-width="1.0"/>
<circle cx="384.0" cy="565.0" r="3.7" fill="#898989" stroke="#707070" stroke-width="1.0"/>
<circle cx="388.3" cy="690.9" r="3.7" fill="#898989" stroke="#707070" stroke-width="1.0"/>
<line x1="435.9" y1="560.8" x2="435.9" y2="602.7" stroke="#f50000" stroke-width="3.1"/>
<line x1="428.4" y1="560.8" x2="443.4" y2="560.8" stroke="#f50000" stroke-width="3.1"/>
<line x1="435.9" y1="632.0" x2="435.9" y2="663.9" stroke="#f50000" stroke-width="3.1"/>
<line x1="428.4" y1="663.9" x2="443.4" y2="663.9" stroke="#f50000" stroke-width="3.1"/>
<rect x="422.2" y="602.7" width="27.4" height="29.3" fill="#fff" stroke="#f50000" stroke-width="3.1"/>
<line x1="422.2" y1="618.4" x2="449.6" y2="618.4" stroke="#f50000" stroke-width="3.1"/>
<circle cx="435.9" cy="538.3" r="4.3" fill="#f50000"/>
<text transform="translate(661,417.5) scale(1.1,1)" font-size="26.5" font-weight="bold" text-anchor="start">E</text>
<line x1="758.4" y1="436.5" x2="758.4" y2="710.7" stroke="#000" stroke-width="2.8"/>
<line x1="757.0" y1="709.3" x2="1468.3" y2="709.3" stroke="#000" stroke-width="2.8"/>
<line x1="746.4" y1="709.2" x2="758.4" y2="709.2" stroke="#000" stroke-width="2.8"/>
<line x1="746.4" y1="618.8" x2="758.4" y2="618.8" stroke="#000" stroke-width="2.8"/>
<line x1="746.4" y1="528.3" x2="758.4" y2="528.3" stroke="#000" stroke-width="2.8"/>
<line x1="746.4" y1="437.9" x2="758.4" y2="437.9" stroke="#000" stroke-width="2.8"/>
<line x1="837.8" y1="709.3" x2="837.8" y2="721.3" stroke="#000" stroke-width="2.8"/>
<line x1="1020.9" y1="709.3" x2="1020.9" y2="721.3" stroke="#000" stroke-width="2.8"/>
<line x1="1203.8" y1="709.3" x2="1203.8" y2="721.3" stroke="#000" stroke-width="2.8"/>
<line x1="1386.5" y1="709.3" x2="1386.5" y2="721.3" stroke="#000" stroke-width="2.8"/>
<text transform="translate(742.5,716.5) scale(1.09,1)" font-size="18.2" font-weight="bold" text-anchor="end">0</text>
<text transform="translate(742.5,626.05) scale(1.09,1)" font-size="18.2" font-weight="bold" text-anchor="end">50</text>
<text transform="translate(742.5,535.6) scale(1.09,1)" font-size="18.2" font-weight="bold" text-anchor="end">100</text>
<text transform="translate(742.5,445.15000000000003) scale(1.09,1)" font-size="18.2" font-weight="bold" text-anchor="end">150</text>
<text transform="translate(836.9,742.2) scale(1.039,1)" font-size="20" font-weight="bold" text-anchor="middle">NT-proBNP baseline</text>
<text transform="translate(1019.8,742.2) scale(1.046,1)" font-size="20" font-weight="bold" text-anchor="middle">NT-proBNP -2H</text>
<text transform="translate(1202.8,742.2) scale(1.04,1)" font-size="20" font-weight="bold" text-anchor="middle">MYO baseline</text>
<text transform="translate(1386.5,742.2) scale(1.046,1)" font-size="20" font-weight="bold" text-anchor="middle">MYO -2H</text>
<text transform="translate(693,572.6) rotate(-90) scale(1.0,1)" font-size="25" font-weight="bold" text-anchor="middle">CCI</text>
<text x="836.9" y="481.3" font-size="33" font-weight="bold" text-anchor="middle">*</text>
<text x="1022.2" y="477.5" font-size="33" font-weight="bold" text-anchor="middle">*</text>
<text x="1385" y="473.5" font-size="33" font-weight="bold" text-anchor="middle">*</text>
<line x1="803.8" y1="635.2" x2="803.8" y2="668.1" stroke="#717171" stroke-width="3.1"/>
<line x1="792.8" y1="635.2" x2="814.8" y2="635.2" stroke="#717171" stroke-width="3.1"/>
<line x1="803.8" y1="684.5" x2="803.8" y2="708.0" stroke="#717171" stroke-width="3.1"/>
<rect x="783.3" y="668.1" width="41.0" height="16.4" fill="#fff" stroke="#717171" stroke-width="3.1"/>
<circle cx="803.8" cy="528.5" r="3.7" fill="#898989" stroke="#707070" stroke-width="1.0"/>
<circle cx="803.5" cy="577.4" r="3.7" fill="#898989" stroke="#707070" stroke-width="1.0"/>
<circle cx="803.5" cy="602.8" r="3.7" fill="#898989" stroke="#707070" stroke-width="1.0"/>
<circle cx="795.4" cy="631.2" r="3.7" fill="#898989" stroke="#707070" stroke-width="1.0"/>
<circle cx="812.3" cy="629.6" r="3.7" fill="#898989" stroke="#707070" stroke-width="1.0"/>
<line x1="872.1" y1="577.4" x2="872.1" y2="645.5" stroke="#f2007a" stroke-width="3.1"/>
<line x1="861.1" y1="577.4" x2="883.1" y2="577.4" stroke="#f2007a" stroke-width="3.1"/>
<line x1="872.1" y1="684.5" x2="872.1" y2="708.0" stroke="#f2007a" stroke-width="3.1"/>
<line x1="861.1" y1="708.0" x2="883.1" y2="708.0" stroke="#f2007a" stroke-width="3.1"/>
<rect x="851.5" y="645.5" width="41.2" height="39.0" fill="#fff" stroke="#f2007a" stroke-width="3.1"/>
<line x1="851.5" y1="664.7" x2="892.7" y2="664.7" stroke="#f2007a" stroke-width="3.1"/>
<circle cx="872.8" cy="563.1" r="4.3" fill="#f2007a"/>
<line x1="986.4" y1="630.3" x2="986.4" y2="667.9" stroke="#717171" stroke-width="3.1"/>
<line x1="975.4" y1="630.3" x2="997.4" y2="630.3" stroke="#717171" stroke-width="3.1"/>
<line x1="986.4" y1="688.0" x2="986.4" y2="708.0" stroke="#717171" stroke-width="3.1"/>
<rect x="965.6" y="667.9" width="41.6" height="20.1" fill="#fff" stroke="#717171" stroke-width="3.1"/>
<line x1="965.6" y1="670.5" x2="1007.2" y2="670.5" stroke="#717171" stroke-width="3.1"/>
<circle cx="986.4" cy="528.2" r="3.7" fill="#898989" stroke="#707070" stroke-width="1.0"/>
<circle cx="986.4" cy="578.0" r="3.7" fill="#898989" stroke="#707070" stroke-width="1.0"/>
<circle cx="978.1" cy="618.4" r="3.7" fill="#898989" stroke="#707070" stroke-width="1.0"/>
<circle cx="994.9" cy="612.8" r="3.7" fill="#898989" stroke="#707070" stroke-width="1.0"/>
<line x1="1055.2" y1="601.9" x2="1055.2" y2="651.6" stroke="#f2007a" stroke-width="3.1"/>
<line x1="1044.2" y1="601.9" x2="1066.2" y2="601.9" stroke="#f2007a" stroke-width="3.1"/>
<line x1="1055.2" y1="684.7" x2="1055.2" y2="693.2" stroke="#f2007a" stroke-width="3.1"/>
<line x1="1044.2" y1="693.2" x2="1066.2" y2="693.2" stroke="#f2007a" stroke-width="3.1"/>
<rect x="1035.0" y="651.6" width="40.4" height="33.1" fill="#fff" stroke="#f2007a" stroke-width="3.1"/>
<line x1="1035.0" y1="664.3" x2="1075.4" y2="664.3" stroke="#f2007a" stroke-width="3.1"/>
<circle cx="1055.4" cy="563.3" r="4.3" fill="#f2007a"/>
<circle cx="1046.9" cy="583.1" r="4.3" fill="#f2007a"/>
<circle cx="1063.7" cy="578.0" r="4.3" fill="#f2007a"/>
<line x1="1169.8" y1="630.0" x2="1169.8" y2="665.3" stroke="#717171" stroke-width="3.1"/>
<line x1="1159.3" y1="630.0" x2="1180.3" y2="630.0" stroke="#717171" stroke-width="3.1"/>
<line x1="1169.8" y1="685.0" x2="1169.8" y2="708.0" stroke="#717171" stroke-width="3.1"/>
<rect x="1149.2" y="665.3" width="41.2" height="19.7" fill="#fff" stroke="#717171" stroke-width="3.1"/>
<line x1="1149.2" y1="667.5" x2="1190.4" y2="667.5" stroke="#717171" stroke-width="3.1"/>
<circle cx="1169.8" cy="528.4" r="3.7" fill="#898989" stroke="#707070" stroke-width="1.0"/>
<circle cx="1169.8" cy="562.8" r="3.7" fill="#898989" stroke="#707070" stroke-width="1.0"/>
<circle cx="1169.8" cy="577.7" r="3.7" fill="#898989" stroke="#707070" stroke-width="1.0"/>
<circle cx="1188.2" cy="577.7" r="3.7" fill="#898989" stroke="#707070" stroke-width="1.0"/>
<circle cx="1151.1" cy="583.1" r="3.7" fill="#898989" stroke="#707070" stroke-width="1.0"/>
<circle cx="1160.3" cy="602.9" r="3.7" fill="#898989" stroke="#707070" stroke-width="1.0"/>
<circle cx="1178.7" cy="601.5" r="3.7" fill="#898989" stroke="#707070" stroke-width="1.0"/>
<circle cx="1151.1" cy="612.4" r="3.7" fill="#898989" stroke="#707070" stroke-width="1.0"/>
<circle cx="1169.8" cy="612.9" r="3.7" fill="#898989" stroke="#707070" stroke-width="1.0"/>
<circle cx="1188.2" cy="618.3" r="3.7" fill="#898989" stroke="#707070" stroke-width="1.0"/>
<circle cx="1151.1" cy="625.1" r="3.7" fill="#898989" stroke="#707070" stroke-width="1.0"/>
<line x1="1238.1" y1="620.2" x2="1238.1" y2="656.4" stroke="#f2007a" stroke-width="3.1"/>
<line x1="1227.1" y1="620.2" x2="1249.1" y2="620.2" stroke="#f2007a" stroke-width="3.1"/>
<line x1="1238.1" y1="680.5" x2="1238.1" y2="693.6" stroke="#f2007a" stroke-width="3.1"/>
<line x1="1227.1" y1="693.6" x2="1249.1" y2="693.6" stroke="#f2007a" stroke-width="3.1"/>
<rect x="1217.7" y="656.4" width="40.8" height="24.1" fill="#fff" stroke="#f2007a" stroke-width="3.1"/>
<line x1="1217.7" y1="665.7" x2="1258.5" y2="665.7" stroke="#f2007a" stroke-width="3.1"/>
<line x1="1352.3" y1="612.4" x2="1352.3" y2="655.6" stroke="#717171" stroke-width="3.1"/>
<line x1="1341.5" y1="612.4" x2="1363.1" y2="612.4" stroke="#717171" stroke-width="3.1"/>
<line x1="1352.3" y1="684.0" x2="1352.3" y2="708.0" stroke="#717171" stroke-width="3.1"/>
<rect x="1331.9" y="655.6" width="40.8" height="28.4" fill="#fff" stroke="#717171" stroke-width="3.1"/>
<line x1="1331.9" y1="667.1" x2="1372.7" y2="667.1" stroke="#717171" stroke-width="3.1"/>
<circle cx="1352.5" cy="562.8" r="3.7" fill="#898989" stroke="#707070" stroke-width="1.0"/>
<circle cx="1333.5" cy="577.7" r="3.7" fill="#898989" stroke="#707070" stroke-width="1.0"/>
<circle cx="1371.4" cy="577.7" r="3.7" fill="#898989" stroke="#707070" stroke-width="1.0"/>
<circle cx="1352.5" cy="583.1" r="3.7" fill="#898989" stroke="#707070" stroke-width="1.0"/>
<circle cx="1352.5" cy="603.4" r="3.7" fill="#898989" stroke="#707070" stroke-width="1.0"/>
<line x1="1420.8" y1="640.0" x2="1420.8" y2="667.7" stroke="#f2007a" stroke-width="3.1"/>
<line x1="1410.3" y1="640.0" x2="1431.3" y2="640.0" stroke="#f2007a" stroke-width="3.1"/>
<rect x="1400.0" y="667.7" width="41.6" height="23.6" fill="#fff" stroke="#f2007a" stroke-width="3.1"/>
<line x1="1400.0" y1="681.1" x2="1441.6" y2="681.1" stroke="#f2007a" stroke-width="3.1"/>
<circle cx="1420.7" cy="528.4" r="4.3" fill="#f2007a"/>
<circle cx="1420.7" cy="577.7" r="4.3" fill="#f2007a"/>
<circle cx="1420.7" cy="602.1" r="4.3" fill="#f2007a"/>
<circle cx="1420.7" cy="618.9" r="4.3" fill="#f2007a"/>
<rect x="1500.5" y="464.8" width="26.3" height="10.6" fill="none" stroke="#717171" stroke-width="3"/>
<rect x="1500.5" y="501.5" width="26.3" height="10.7" fill="none" stroke="#f50000" stroke-width="3"/>
<rect x="1502.5" y="544.9" width="26.0" height="11.3" fill="none" stroke="#717171" stroke-width="3"/>
<rect x="1502.5" y="582.3" width="26.0" height="11.2" fill="none" stroke="#f2007a" stroke-width="3"/>
<text transform="translate(1544.5,477.6) scale(1.035,1)" font-size="22" font-weight="normal" text-anchor="start">Negative</text>
<text transform="translate(1544.4,513.7) scale(1.033,1)" font-size="22" font-weight="normal" text-anchor="start">Positive</text>
<text transform="translate(1545.9,557.5) scale(1.066,1)" font-size="22" font-weight="normal" text-anchor="start">Reference group</text>
<text transform="translate(1546.1,594.6) scale(1.065,1)" font-size="22" font-weight="normal" text-anchor="start">Abnormal group</text>
</svg>
</body></html>
